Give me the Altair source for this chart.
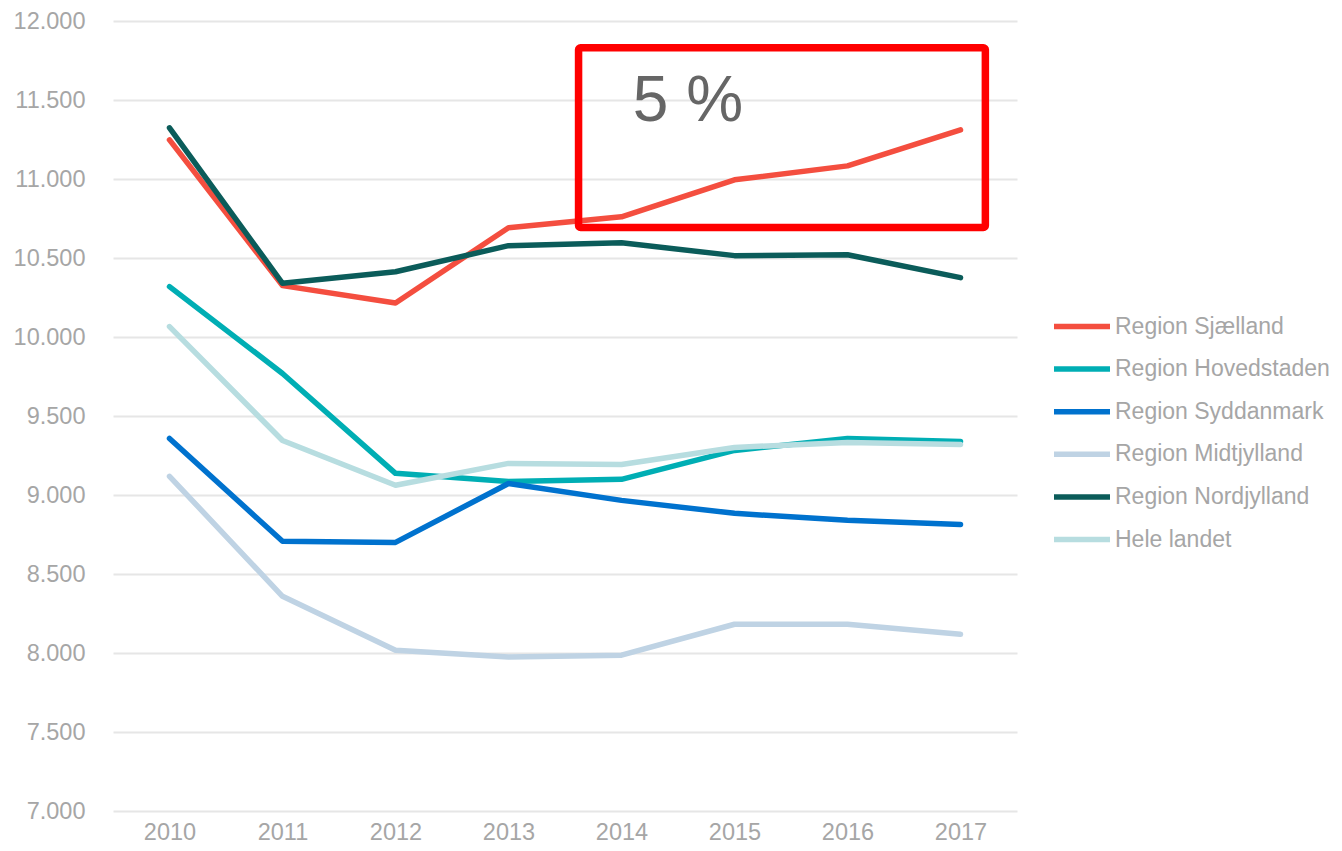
import altair as alt
import pandas as pd

years = [2010, 2011, 2012, 2013, 2014, 2015, 2016, 2017]
series_names = ["Region Sjælland", "Region Hovedstaden", "Region Syddanmark",
                "Region Midtjylland", "Region Nordjylland", "Hele landet"]
sjaelland = [11248, 10325, 10215, 10692, 10761, 10995, 11083, 11311]
hovedstaden = [10319, 9769, 9137, 9086, 9099, 9282, 9358, 9339]
syddanmark = [9358, 8707, 8700, 9073, 8966, 8884, 8840, 8814]
midtjylland = [9118, 8359, 8018, 7974, 7986, 8182, 8182, 8119]
nordjylland = [11324, 10340, 10413, 10578, 10597, 10515, 10521, 10376]
hele_landet = [10066, 9345, 9062, 9200, 9193, 9301, 9333, 9320]
colors = ["#F44E3F", "#00AEB4", "#0072CE", "#BFD3E4", "#0B5C5A", "#B7DDE0"]

# annotation box (data units) and label
box_x = [2013.62]
box_x2 = [2017.22]
box_y = [11831]
box_y2 = [10693]
note_text = ["5 %"]
note_x = [2014.1]
note_y = [11367]

all_series = [sjaelland, hovedstaden, syddanmark, midtjylland, nordjylland, hele_landet]
rows = []
for i, (name, vals) in enumerate(zip(series_names, all_series)):
    for y, v in zip(years, vals):
        rows.append({"Year": y, "Value": v, "Series": name, "order": i})
df = pd.DataFrame(rows)

FONT = "Liberation Sans"
GREY = "#A6A6A6"
FS = 23.5

x_scale = alt.Scale(domain=[2009.5, 2017.5], nice=False, zero=False)
y_scale = alt.Scale(domain=[7000, 12000], nice=False, zero=False)

x_axis = alt.Axis(values=years, format="d", title=None, grid=False, ticks=False,
                  domain=False, labelFont=FONT, labelFontSize=FS, labelColor=GREY,
                  labelPadding=9)
y_axis = alt.Axis(values=list(range(7000, 12001, 500)), title=None, ticks=False,
                  domain=False, grid=True, gridColor="#E6E6E6", gridWidth=2,
                  labelExpr="replace(format(datum.value, ',d'), ',', '.')",
                  labelFont=FONT, labelFontSize=FS, labelColor=GREY,
                  labelPadding=28)

lines = alt.Chart(df).mark_line(strokeWidth=5.5, strokeCap="round", strokeJoin="round").encode(
    x=alt.X("Year:Q", scale=x_scale, axis=x_axis),
    y=alt.Y("Value:Q", scale=y_scale, axis=y_axis),
    color=alt.Color("Series:N", sort=series_names,
                    scale=alt.Scale(domain=series_names, range=colors),
                    legend=alt.Legend(title=None, orient="none", legendX=938, legendY=295,
                                      symbolType="stroke", symbolSize=3136,
                                      symbolStrokeWidth=5.5, clipHeight=21,
                                      rowPadding=18.6, labelOffset=2, padding=0,
                                      labelLimit=400,
                                      labelFont=FONT, labelFontSize=23, labelColor=GREY)),
    order=alt.Order("order:Q"),
)

box_df = pd.DataFrame({"x": box_x, "x2": box_x2, "y": box_y, "y2": box_y2})
box = alt.Chart(box_df).mark_rect(fill=None, stroke="#FF0000", strokeWidth=7.5,
                                  cornerRadius=2, strokeJoin="round").encode(
    x=alt.X("x:Q", scale=x_scale, axis=x_axis), x2="x2:Q",
    y=alt.Y("y:Q", scale=y_scale, axis=y_axis), y2="y2:Q",
)

note_df = pd.DataFrame({"x": note_x, "y": note_y, "t": note_text})
note = alt.Chart(note_df).mark_text(font=FONT, fontSize=64, color="#666666",
                                    align="left", baseline="alphabetic").encode(
    x=alt.X("x:Q", scale=x_scale, axis=x_axis), y=alt.Y("y:Q", scale=y_scale, axis=y_axis),
    text="t:N"
)

chart = alt.layer(lines, box, note).properties(
    width=904, height=790,
    background="white",
    autosize=alt.AutoSizeParams(type="none"),
    padding={"left": 105, "top": 13, "right": 317, "bottom": 32},
).configure_view(strokeWidth=0, stroke="transparent").configure_axis(domain=False)

chart.save("out.html", embed_options={"renderer": "svg", "actions": False})
